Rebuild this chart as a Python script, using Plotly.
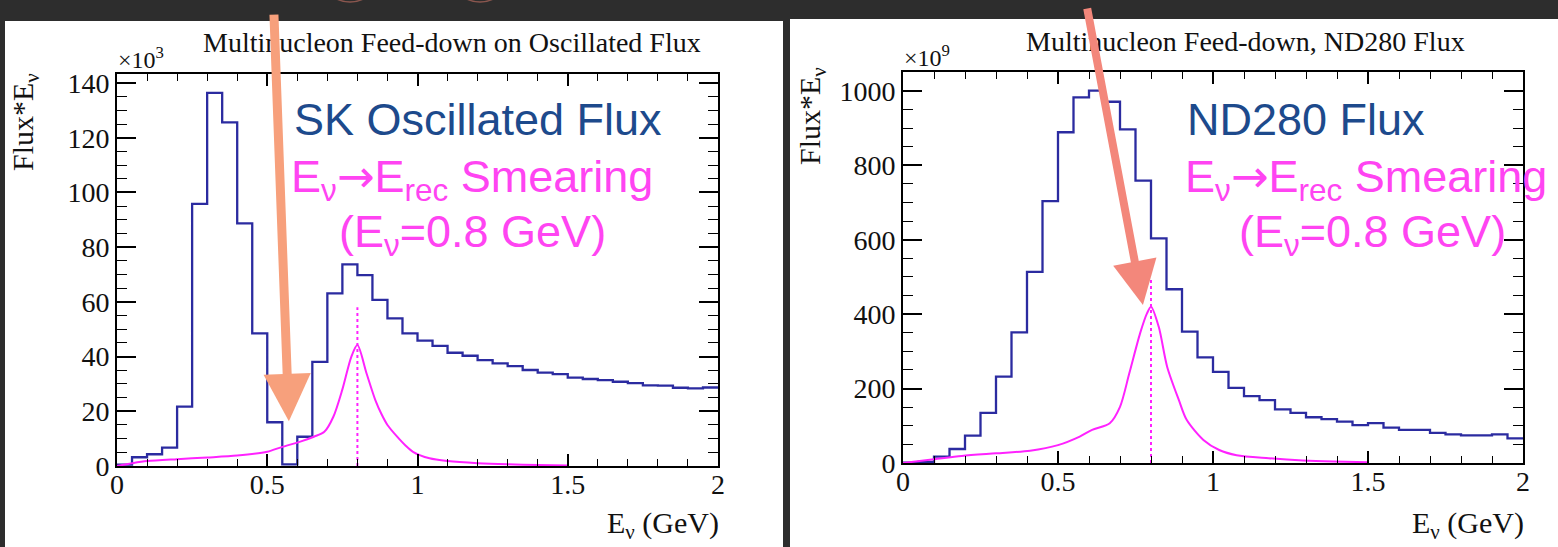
import numpy as np
import plotly.graph_objects as go
from plotly.subplots import make_subplots

W, H = 1558, 547

# ---- data -------------------------------------------------------------
bin_edges = np.linspace(0.0, 2.0, 41)  # 0.05 GeV bins

# SK oscillated flux * E (x10^3)
sk_flux = [0.5, 3.2, 4.3, 6.7, 21.7, 95.8, 136.4, 125.6, 88.7, 48.5,
           16.0, 0.6, 10.7, 38.1, 63.1, 73.7, 69.8, 60.7, 54.0, 48.5,
           45.8, 43.9, 41.4, 40.3, 38.7, 37.5, 36.5, 35.1, 34.1, 33.6,
           32.3, 31.8, 31.4, 30.8, 30.3, 29.5, 29.4, 28.6, 28.4, 28.7]

# ND280 flux * E (x10^9)
nd_flux = [1, 3, 17, 37.6, 73.5, 135, 232, 351, 514, 704,
           889, 983, 1001, 971, 897, 759, 604, 467, 353, 284,
           245, 202, 180, 169, 144, 135, 123, 118, 111, 102,
           107, 95, 89, 89, 81, 77, 74, 74, 77, 66]

# Ev -> Erec smearing for Ev = 0.8 GeV (scaled to each panel)
sk_smear_e = [0.0, 0.05, 0.1, 0.2, 0.3, 0.4, 0.5, 0.55, 0.61, 0.655, 0.69,
              0.72, 0.75, 0.78, 0.8, 0.83, 0.86, 0.88, 0.9, 0.93, 0.96,
              0.985, 1.04, 1.1, 1.2, 1.3, 1.4, 1.5]
sk_smear_v = [0.0, 1.0, 1.8, 2.5, 3.1, 3.8, 5.2, 7.0, 8.9, 10.7, 12.5,
              18.0, 28.0, 40.0, 44.2, 34.0, 24.0, 19.0, 15.0, 11.0, 7.5,
              5.2, 2.8, 1.8, 1.0, 0.6, 0.4, 0.2]

nd_smear_e = [0.0, 0.1, 0.19, 0.3, 0.41, 0.5, 0.57, 0.61, 0.667, 0.7, 0.73,
              0.765, 0.787, 0.8, 0.825, 0.852, 0.89, 0.915, 0.969, 1.02,
              1.076, 1.18, 1.29, 1.39, 1.5]
nd_smear_v = [0, 10, 19, 26, 33, 48, 71, 89, 107, 151, 241,
              349, 402, 420, 366, 259, 169, 116, 62, 35,
              21, 13, 7, 4, 2]

true_ev = 0.8
sk_marker_top = 58
nd_marker_top = 500

# ---- colours / fonts --------------------------------------------------
BG = "#2d2d2d"
HIST = "#2b2ba0"
MAG = "#ff22ff"
TXT_BLUE = "#1d4a8c"
TXT_MAG = "#ff44f2"
SERIF = "Liberation Serif"
SANS = "Liberation Sans"


def px(x):
    return x / W


def py(y):
    return 1 - y / H


fig = make_subplots(rows=1, cols=2)

# frame placement (pixels)
left_frame = (117, 718, 74, 466)
right_frame = (903, 1523, 72, 463)


def add_panel(col, flux, smear_e, smear_v, marker_top):
    steps = list(flux) + [flux[-1]]
    fig.add_trace(go.Scatter(x=bin_edges, y=steps, mode="lines", line_shape="hv",
                             line=dict(color=HIST, width=2.3), showlegend=False,
                             hoverinfo="skip"), row=1, col=col)
    fig.add_trace(go.Scatter(x=smear_e, y=smear_v, mode="lines", line_shape="spline",
                             line=dict(color=MAG, width=2, smoothing=0.8),
                             showlegend=False, hoverinfo="skip"), row=1, col=col)
    fig.add_trace(go.Scatter(x=[true_ev, true_ev], y=[0, marker_top], mode="lines",
                             line=dict(color=MAG, width=2, dash="dot"),
                             showlegend=False, hoverinfo="skip"), row=1, col=col)


add_panel(1, sk_flux, sk_smear_e, sk_smear_v, sk_marker_top)
add_panel(2, nd_flux, nd_smear_e, nd_smear_v, nd_marker_top)

axis_common = dict(showline=True, linecolor="black", linewidth=2, mirror="ticks",
                   ticks="inside", tickcolor="black", showgrid=False, zeroline=False,
                   automargin=False,
                   tickfont=dict(family=SERIF, size=28, color="#111"))

for i, (frame, ymax, ydt, yminor) in enumerate(
        [(left_frame, 143.3, 20, 5), (right_frame, 1051, 200, 50)], start=1):
    x0, x1, y0, y1 = frame
    sfx = "" if i == 1 else "2"
    fig.update_layout(**{
        "xaxis" + sfx: dict(axis_common, domain=[px(x0), px(x1)], range=[0, 2],
                            tickvals=[0, 0.5, 1, 1.5, 2], ticktext=["0", "0.5", "1", "1.5", "2"],
                            ticklen=12, tickwidth=1.5, ticklabelstandoff=-8,
                            minor=dict(dtick=0.1, tick0=0, ticklen=7, ticks="inside",
                                       tickcolor="black", tickwidth=1.2)),
        "yaxis" + sfx: dict(axis_common, domain=[py(y1), py(y0)], range=[0, ymax],
                            dtick=ydt, tick0=0, ticklen=19, tickwidth=1.5,
                            minor=dict(dtick=yminor, tick0=0, ticklen=10, ticks="inside",
                                       tickcolor="black", tickwidth=1.2)),
    })

# ---- panel backgrounds ------------------------------------------------
shapes = [
    dict(type="rect", xref="paper", yref="paper", x0=px(5), x1=px(783), y0=0, y1=py(21),
         fillcolor="white", line=dict(width=0), layer="below"),
    dict(type="rect", xref="paper", yref="paper", x0=px(790), x1=1, y0=0, y1=py(19),
         fillcolor="white", line=dict(width=0), layer="below"),
]
# circle outlines peeking in from above
for cx in (350, 480):
    shapes.append(dict(type="circle", xref="paper", yref="paper",
                       x0=px(cx - 30), x1=px(cx + 30), y0=py(2), y1=py(-58),
                       line=dict(color="#8a564e", width=1.5), layer="below"))


def note(text, x, y, size, color, family=SANS, xa="center", ya="middle", angle=0):
    return dict(text=text, x=px(x), y=py(y), xref="paper", yref="paper",
                xanchor=xa, yanchor=ya, textangle=angle, showarrow=False,
                font=dict(family=family, size=size, color=color))


ann = []
# titles
ann.append(note("Multinucleon Feed-down on Oscillated Flux", 452, 42, 28, "#111", SERIF))
ann.append(note("Multinucleon Feed-down, ND280 Flux", 1245, 41, 28, "#111", SERIF))

for frame, expo, ytx, yty in [(left_frame, "3", 25, 122), (right_frame, "9", 812, 116)]:
    x0, x1, y0, y1 = frame
    ann.append(note("×10<sup>%s</sup>" % expo, x0 - 1, y0 + 1, 24, "#111", SERIF,
                    xa="left", ya="bottom"))
    ann.append(note("Flux*E<sub>ν</sub>", ytx, yty, 30, "#111", SERIF, angle=-90))
    ann.append(note("E<sub>ν</sub> (GeV)", x1 + 3, 525, 30, "#111", SERIF, xa="right"))

# panel captions
ARROW = '<span style="font-family:DejaVu Sans">→</span>'
smear_line = "E<sub>ν</sub>" + ARROW + "E<sub>rec</sub> Smearing"
ev_line = "(E<sub>ν</sub>=0.8 GeV)"

ann.append(note("SK Oscillated Flux", 478, 120, 45, TXT_BLUE))
ann.append(note(smear_line, 472, 179, 45, TXT_MAG))
ann.append(note(ev_line, 472, 234, 45, TXT_MAG))

ann.append(note("ND280 Flux", 1306, 120, 45, TXT_BLUE))
ann.append(note(smear_line, 1366, 179, 45, TXT_MAG))
ann.append(note(ev_line, 1372, 234, 45, TXT_MAG))

# pointer arrows
ann.append(dict(text="", x=0.572, y=16.4, xref="x", yref="y", showarrow=True,
                ax=-15, ay=-408, arrowhead=2, arrowwidth=9, arrowsize=1.05,
                arrowcolor="#f7a07c", standoff=0))
ann.append(dict(text="", x=0.774, y=425, xref="x2", yref="y2", showarrow=True,
                ax=-56, ay=-298, arrowhead=2, arrowwidth=8, arrowsize=1.1,
                arrowcolor="#f3877b", standoff=0))

fig.update_layout(width=W, height=H,
                  margin=dict(l=0, r=0, t=0, b=0, pad=0, autoexpand=False),
                  paper_bgcolor=BG, plot_bgcolor="white",
                  shapes=shapes, annotations=ann, showlegend=False)

fig.write_html("out.html")
